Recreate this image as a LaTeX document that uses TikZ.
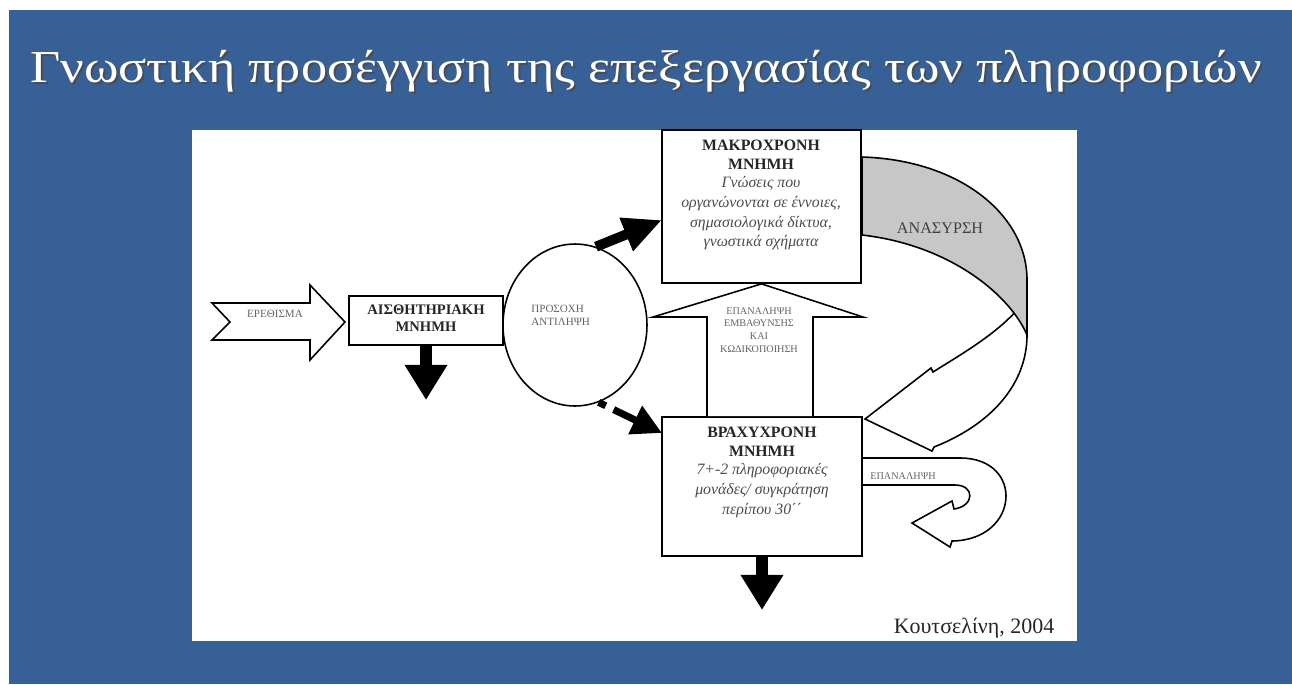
\documentclass[tikz,border=0pt]{standalone}
\usepackage{fontspec}
\setmainfont{Liberation Serif}
\newfontfamily\titlefont[FakeStretch=1.145]{Liberation Serif}
\usetikzlibrary{shapes.geometric,arrows.meta,positioning}
\definecolor{slideblue}{RGB}{55,96,150}
\definecolor{txtgrey}{RGB}{100,100,100}

\begin{document}
\begin{tikzpicture}[x=0.02cm, y=-0.02cm,
  membox/.style={draw, line width=1pt, fill=white, inner sep=0pt},
  blockarrow/.style={draw, line width=0.9pt, line join=miter},
  blackarrow/.style={line width=6.5pt, -{Triangle[length=20pt,width=23pt]}},
  tinytxt/.style={text=txtgrey, font=\fontsize{6.3}{7.5}\selectfont, align=center, inner sep=0pt},
  headtxt/.style={text=black!85, font=\fontsize{9}{10.8}\selectfont\bfseries, align=center, inner sep=0pt},
  bodytxt/.style={text=black!70, font=\fontsize{9}{11.2}\selectfont\itshape, align=center, inner sep=0pt}]
  % --- slide ---
  \useasboundingbox (0,0) rectangle (1292,684);
  \fill[white] (0,0) rectangle (1292,684);
  \fill[slideblue] (9,10) rectangle (1292,684);
  \node[anchor=base, text=black!70, font=\titlefont\fontsize{26}{30}\selectfont] (titleshadow) at (648,84)
    {Γνωστική προσέγγιση της επεξεργασίας των πληροφοριών};
  \node[anchor=base, text=white, font=\titlefont\fontsize{26}{30}\selectfont] (title) at (646,82)
    {Γνωστική προσέγγιση της επεξεργασίας των πληροφοριών};
  \fill[white] (192,130) rectangle (1077,641);

  % --- input and sensory memory ---
  \draw[blockarrow] (212,303) -- (310,303) -- (310,285) -- (345,322) -- (310,360) -- (310,340)
    -- (212,340) -- (230,322) -- cycle;
  \node[tinytxt] (stim) at (275,314) {ΕΡΕΘΙΣΜΑ};
  \node[membox, minimum width=3.08cm, minimum height=0.98cm] (sens) at (426,320.5) {};
  \node[headtxt, font=\fontsize{8.3}{9.3}\selectfont\bfseries] (senstxt) at (426,318) {ΑΙΣΘΗΤΗΡΙΑΚΗ\\ΜΝΗΜΗ};
  \coordinate (sensout) at (426,400);
  \draw[blackarrow] (sens.south) -- (sensout);

  % --- attention ---
  \node[ellipse, draw, line width=0.9pt, minimum width=2.88cm, minimum height=3.24cm] (att) at (575,325) {};
  \node[tinytxt, align=left, anchor=west] (atttxt) at (531,315) {ΠΡΟΣΟΧΗ\\ΑΝΤΙΛΗΨΗ};

  % --- long term memory ---
  \node[membox, minimum width=3.98cm, minimum height=3.06cm] (ltm) at (761.5,206.5) {};
  \node[headtxt, anchor=north] (ltmhead) at (761,140) {ΜΑΚΡΟΧΡΟΝΗ\\ΜΝΗΜΗ};
  \node[bodytxt, below=3.5pt of ltmhead] (ltmbody)
    {Γνώσεις που\\οργανώνονται σε έννοιες,\\σημασιολογικά δίκτυα,\\γνωστικά σχήματα};
  \coordinate (ltmin) at (662,220);
  \draw[line width=5.7pt, -{Triangle[length=22pt,width=19pt]}] (att.75) -- (ltmin);

  % --- short term memory ---
  \node[membox, minimum width=4cm, minimum height=2.78cm] (stm) at (762,486.5) {};
  \node[headtxt, anchor=north] (stmhead) at (762,427) {ΒΡΑΧΥΧΡΟΝΗ\\ΜΝΗΜΗ};
  \node[bodytxt, below=3.5pt of stmhead] (stmbody)
    {7+-2 πληροφοριακές\\μονάδες/ συγκράτηση\\περίπου 30΄΄};
  \coordinate (stmin) at (662,433);
  \draw[line width=4pt, dash pattern=on 4.5pt off 5pt on 40pt, -{Triangle[length=17pt,width=17pt]}]
    (att.-73) -- (stmin);
  \coordinate (stmout) at (762,610);
  \draw[blackarrow] (stm.south) -- (stmout);

  % --- rehearsal up into long term memory ---
  \draw[blockarrow, fill=white] (707,416) -- (707,317) -- (653,317) -- (ltm.south) -- (863,317)
    -- (813,317) -- (813,416);
  \node[tinytxt, font=\fontsize{5.8}{7.3}\selectfont] (enc) at (759,330)
    {ΕΠΑΝΑΛΗΨΗ\\ΕΜΒΑΘΥΝΣΗΣ\\ΚΑΙ\\ΚΩΔΙΚΟΠΟΙΗΣΗ};

  % --- retrieval ---
  \draw[blockarrow] (1017,310) .. controls (995,335) and (960,355) .. (933,372) -- (931,368)
    -- (865,419) -- (932,451) -- (934,447) .. controls (990,425) and (1027,385) .. (1027,335);
  \draw[blockarrow, fill=black!22] (862,157) .. controls (960,160) and (1027,215) .. (1027,280)
    -- (1027,335) .. controls (1010,295) and (950,245) .. (862,235) -- cycle;
  \node[text=black!75, font=\fontsize{9.2}{10}\selectfont] (retr) at (940,228) {ΑΝΑΣΥΡΣΗ};

  % --- rehearsal loop ---
  \draw[blockarrow] (862,458) -- (960,458) .. controls (1025,458) and (1020,540) .. (952,541)
    -- (950,547) -- (912,523) -- (952,501) -- (954,509) .. controls (975,506) and (975,485) .. (955,485)
    -- (862,485);
  \node[tinytxt, font=\fontsize{5.8}{7}\selectfont] (loop) at (903,476) {ΕΠΑΝΑΛΗΨΗ};

  \node[font=\fontsize{12.5}{14}\selectfont, text=black!85] (src) at (974,628) {Κουτσελίνη, 2004};
\end{tikzpicture}
\end{document}
